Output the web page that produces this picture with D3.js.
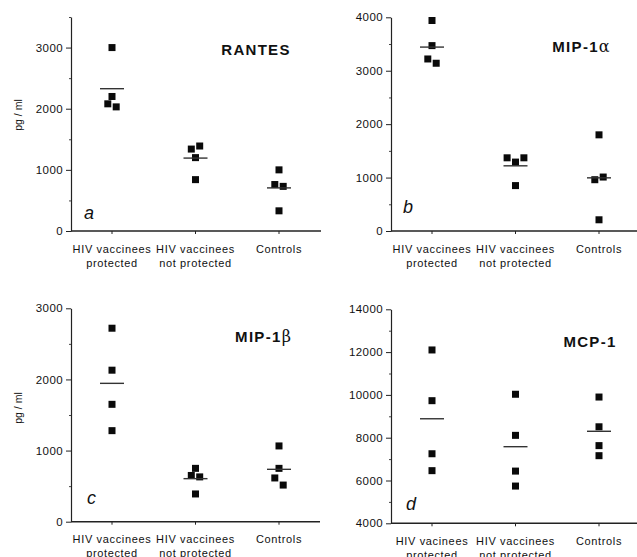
<!DOCTYPE html>
<html>
<head>
<meta charset="utf-8">
<script src="https://cdn.jsdelivr.net/npm/d3@7"></script>
<style>
  body { margin: 0; background: #fff; }
  svg { font-family: "Liberation Sans", Arial, sans-serif; }
  .tick text { fill: #111; }
</style>
</head>
<body>
<div id="chart"></div>
<script>
// group labels (panel d has the typo of the original figure)
var groupLabels = [["HIV vaccinees", "protected"], ["HIV vaccinees", "not protected"], ["Controls"]];
var groupLabelsD = [["HIV vacinees", "protected"], ["HIV vaccinees", "not protected"], ["Controls"]];

// values per group, pg/ml
var rantesValues = [[3000, 2200, 2080, 2030], [1390, 1340, 1200, 840], [1000, 760, 730, 330]];
var mip1aValues  = [[3940, 3470, 3220, 3140], [1370, 1290, 1370, 850], [1800, 960, 1010, 210]];
var mip1bValues  = [[2720, 2130, 1650, 1280], [750, 650, 630, 390], [1065, 750, 615, 515]];
var mcp1Values   = [[12100, 9730, 7250, 6460], [10030, 8110, 6440, 5740], [9900, 8510, 7630, 7160]];

// which side of the group centre a square was nudged to, so that it does not cover its neighbour
var rantesSide = [[0, 0, -1, 1], [1, -1, 0, 0], [0, -1, 1, 0]];
var mip1aSide  = [[0, 0, -1, 1], [-2, 0, 2, 0], [0, -1, 1, 0]];
var mip1bSide  = [[0, 0, 0, 0], [0, -1, 1, 0], [0, 0, -1, 1]];
var mcp1Side   = [[0, 0, 0, 0], [0, 0, 0, 0], [0, 0, 0, 0]];

// y axis ticks
var rantesTicks = [0, 1000, 2000, 3000];
var mip1aTicks  = [0, 1000, 2000, 3000, 4000];
var mip1bTicks  = [0, 1000, 2000, 3000];
var mcp1Ticks   = [4000, 6000, 8000, 10000, 12000, 14000];

var svg = d3.select("#chart").append("svg")
	.attr("width", 637)
	.attr("height", 557);

var panels = [
	{title: "RANTES", greek: "", letter: "a", values: rantesValues, side: rantesSide, labels: groupLabels,
	 domain: [0, 3500], ticks: rantesTicks, minorStep: 500, left: 71, bottom: 231, top: 17, right: 321,
	 ylabel: true, ylabelY: 115, titleX: 256, titleY: 55, letterX: 84, letterY: 219},
	{title: "MIP-1", greek: "\u03b1", letter: "b", values: mip1aValues, side: mip1aSide, labels: groupLabels,
	 domain: [0, 4000], ticks: mip1aTicks, minorStep: 500, left: 391, bottom: 231, top: 17.3, right: 637,
	 ylabel: false, titleX: 581, titleY: 52, letterX: 403, letterY: 213},
	{title: "MIP-1", greek: "\u03b2", letter: "c", values: mip1bValues, side: mip1bSide, labels: groupLabels,
	 domain: [0, 3000], ticks: mip1bTicks, minorStep: 500, left: 71, bottom: 521.7, top: 308.3, right: 320,
	 ylabel: true, ylabelY: 408, titleX: 263, titleY: 342, letterX: 87, letterY: 504},
	{title: "MCP-1", greek: "", letter: "d", values: mcp1Values, side: mcp1Side, labels: groupLabelsD,
	 domain: [4000, 14000], ticks: mcp1Ticks, minorStep: 1000, left: 391, bottom: 523.3, top: 309.3, right: 637,
	 ylabel: false, titleX: 590, titleY: 347, letterX: 406, letterY: 510}
];

var sq = 7;       // square size
var nudge = 4.2;  // px per side unit
var meanHalf = 12;

panels.forEach(function(p) {
	var g = svg.append("g");

	var yScale = d3.scaleLinear().domain(p.domain).range([p.bottom, p.top]);
	var xScale = d3.scalePoint().domain([0, 1, 2]).range([p.left + 41, p.left + 208]);

	// minor ticks
	var minor = d3.range(p.domain[0], p.domain[1] + 1, p.minorStep).filter(function(v) { return p.ticks.indexOf(v) < 0; });
	g.append("g")
		.attr("transform", "translate(" + p.left + ",0)")
		.call(d3.axisLeft(yScale).tickValues(minor).tickSize(2).tickFormat(""))
		.call(function(a) { a.select(".domain").remove(); a.selectAll("line").attr("stroke", "#444"); });

	// y axis
	var yAxis = g.append("g")
		.attr("transform", "translate(" + p.left + ",0)")
		.call(d3.axisLeft(yScale).tickValues(p.ticks).tickSize(5).tickSizeOuter(0).tickPadding(3).tickFormat(d3.format("d")));
	yAxis.select(".domain").attr("stroke", "#222").attr("stroke-width", 1.2);
	yAxis.selectAll(".tick line").attr("stroke", "#222");
	yAxis.selectAll(".tick text")
		.style("font-size", "11.5px")
		.style("letter-spacing", "0.4px")
		.style("font-family", "'Liberation Sans', Arial, sans-serif");

	// x axis line
	g.append("line")
		.attr("x1", p.left).attr("x2", p.right)
		.attr("y1", p.bottom).attr("y2", p.bottom)
		.attr("stroke", "#222").attr("stroke-width", 1.4);

	// category ticks and labels
	p.labels.forEach(function(lines, i) {
		g.append("line")
			.attr("x1", xScale(i)).attr("x2", xScale(i))
			.attr("y1", p.bottom).attr("y2", p.bottom + 3)
			.attr("stroke", "#222");
		var t = g.append("text")
			.attr("text-anchor", "middle")
			.attr("fill", "#111")
			.style("font-size", "11px")
			.style("letter-spacing", "0.65px");
		lines.forEach(function(line, k) {
			t.append("tspan")
				.attr("x", xScale(i))
				.attr("y", p.bottom + 21.5 + k * 14)
				.text(line);
		});
	});

	// squares
	p.values.forEach(function(vals, i) {
		g.selectAll(".pt" + i)
			.data(vals)
			.enter()
			.append("rect")
			.attr("class", "pt" + i)
			.attr("x", function(d, k) { return xScale(i) + p.side[i][k] * nudge - sq / 2; })
			.attr("y", function(d) { return yScale(d) - sq / 2; })
			.attr("width", sq)
			.attr("height", sq)
			.attr("fill", "#0a0a0a");

		var m = d3.mean(vals);
		g.append("line")
			.attr("x1", xScale(i) - meanHalf).attr("x2", xScale(i) + meanHalf)
			.attr("y1", yScale(m)).attr("y2", yScale(m))
			.attr("stroke", "#333")
			.attr("stroke-width", 1.4);
	});

	// title
	var title = g.append("text")
		.attr("x", p.titleX).attr("y", p.titleY)
		.attr("text-anchor", "middle")
		.attr("fill", "#111")
		.style("font-size", "15px")
		.style("font-weight", "bold")
		.style("letter-spacing", "1.3px")
		.text(p.title);
	if (p.greek) {
		title.append("tspan")
			.style("font-weight", "normal")
			.style("font-family", "'DejaVu Serif', 'Liberation Serif', serif")
			.style("font-size", "16px")
			.style("letter-spacing", "0px")
			.text(p.greek);
	}

	// panel letter
	g.append("text")
		.attr("x", p.letterX).attr("y", p.letterY)
		.attr("fill", "#111")
		.style("font-size", "18px")
		.style("font-style", "italic")
		.text(p.letter);

	// y label
	if (p.ylabel) {
		g.append("text")
			.attr("transform", "translate(22," + p.ylabelY + ") rotate(-90)")
			.attr("text-anchor", "middle")
			.attr("fill", "#111")
			.style("font-size", "10.5px")
			.text("pg / ml");
	}
});
</script>
</body>
</html>
